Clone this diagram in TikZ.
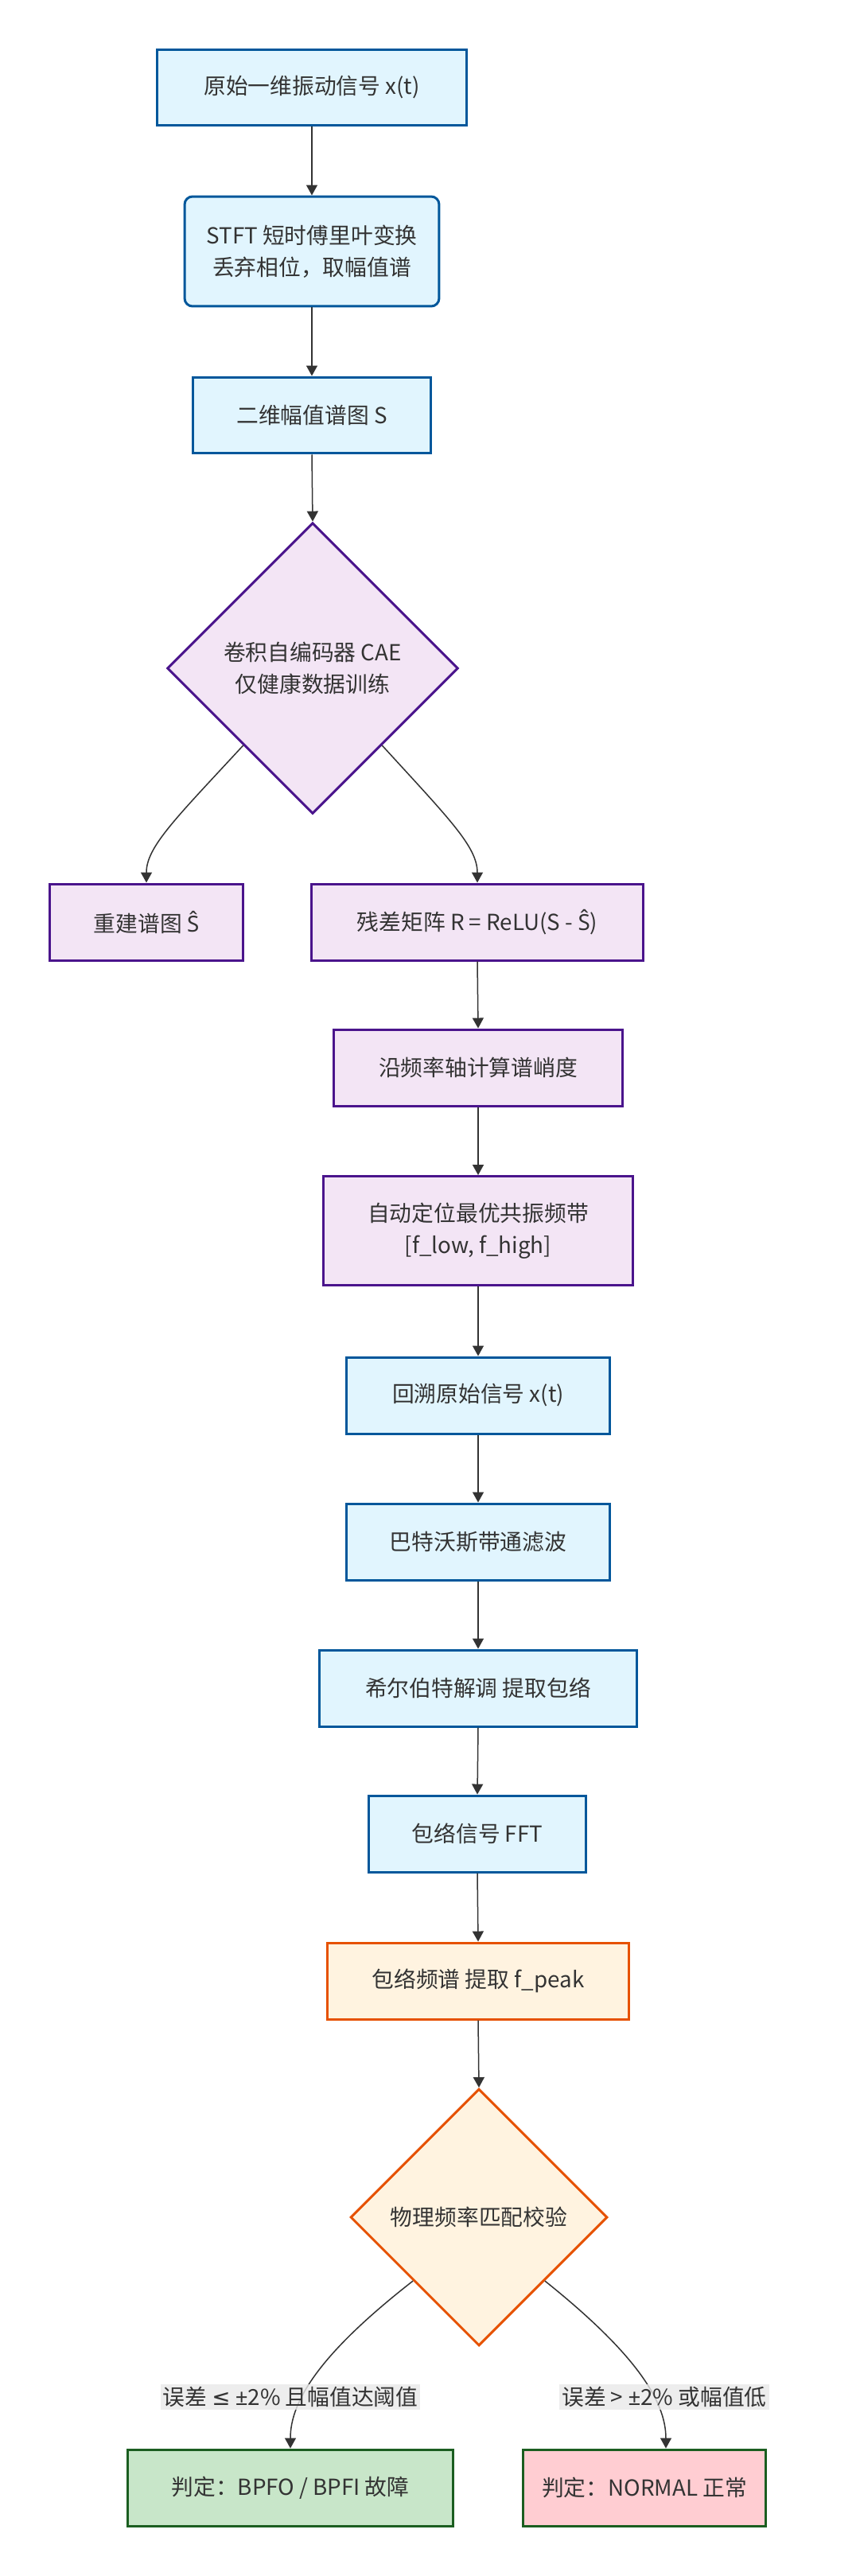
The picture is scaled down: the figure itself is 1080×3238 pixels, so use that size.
\documentclass[tikz,border=0pt]{standalone}
\usepackage{fontspec}
\setmainfont{Noto Sans CJK SC}
\newfontfamily\latinfont{Noto Sans}
\newfontfamily\symbolfont{DejaVu Sans}
\usetikzlibrary{shapes.geometric,arrows.meta}

\definecolor{blueline}{HTML}{01579B}
\definecolor{bluefill}{HTML}{E1F5FE}
\definecolor{purpleline}{HTML}{4A148C}
\definecolor{purplefill}{HTML}{F3E5F5}
\definecolor{orangeline}{HTML}{E65100}
\definecolor{orangefill}{HTML}{FFF3E0}
\definecolor{greenline}{HTML}{1B5E20}
\definecolor{greenfill}{HTML}{C8E6C9}
\definecolor{pinkfill}{HTML}{FFCDD2}
\definecolor{textgray}{HTML}{333333}
\definecolor{labelgray}{HTML}{E8E8E8}

\newcommand{\flowfont}{\fontsize{15.8pt}{22.6pt}\selectfont}
\newcommand{\Shat}{{\latinfont Ŝ}}

\begin{document}
\begin{tikzpicture}[x=0.02cm, y=-0.02cm,
  box/.style={draw, line width=0.06cm, minimum height=1.92cm, inner sep=0, align=center, font=\flowfont, text=textgray},
  bluebox/.style={box, draw=blueline, fill=bluefill},
  purplebox/.style={box, draw=purpleline, fill=purplefill},
  orangebox/.style={box, draw=orangeline, fill=orangefill},
  greenbox/.style={box, draw=greenline, fill=greenfill},
  pinkbox/.style={box, draw=greenline, fill=pinkfill},
  decision/.style={diamond, aspect=1, line width=0.06cm, inner sep=0, align=center, font=\flowfont, text=textgray},
  flow/.style={draw=textgray, line width=0.03cm, -{Triangle[length=0.26cm, width=0.28cm]}},
  edgelabel/.style={fill=labelgray, fill opacity=0.8, text opacity=1, inner sep=0.06cm, font=\flowfont, text=textgray}]

\useasboundingbox (0,0) rectangle (1080,3238);

% upper part: signal to spectrogram and autoencoder
\node[bluebox, minimum width=7.78cm] (src) at (392,110) {原始一维振动信号 x(t)};
\node[bluebox, rounded corners=0.2cm, minimum width=6.4cm, minimum height=2.76cm] (stft) at (392,316) {STFT 短时傅里叶变换\\丢弃相位，取幅值谱};
\node[bluebox, minimum width=5.98cm] (spec) at (392,522) {二维幅值谱图 S};
\node[decision, draw=purpleline, fill=purplefill, minimum size=7.32cm] (cae) at (393,840) {卷积自编码器 CAE\\仅健康数据训练};
\node[purplebox, minimum width=4.88cm] (rebuild) at (184,1159) {重建谱图 \Shat};
\node[purplebox, minimum width=8.34cm] (resid) at (600,1159) {残差矩阵 R = ReLU(S - \Shat)};
\node[purplebox, minimum width=7.28cm] (kurt) at (601,1342) {沿频率轴计算谱峭度};
\node[purplebox, minimum width=7.8cm, minimum height=2.74cm] (band) at (601,1547) {自动定位最优共振频带\\{}[f\_low, f\_high]};

% lower part: envelope analysis
\node[bluebox, minimum width=6.64cm] (back) at (601,1754) {回溯原始信号 x(t)};
\node[bluebox, minimum width=6.64cm] (bpf) at (601,1938) {巴特沃斯带通滤波};
\node[bluebox, minimum width=8cm] (hilb) at (601,2122) {希尔伯特解调 提取包络};
\node[bluebox, minimum width=5.48cm] (fft) at (600,2305) {包络信号 FFT};
\node[orangebox, minimum width=7.6cm] (peak) at (601,2490) {包络频谱 提取 f\_peak};
\node[decision, draw=orangeline, fill=orangefill, minimum size=6.46cm] (check) at (602,2787) {物理频率匹配校验};
\node[greenbox, minimum width=8.18cm] (fault) at (365,3127) {判定：BPFO / BPFI 故障};
\node[pinkbox, minimum width=6.1cm] (normal) at (810,3127) {判定：NORMAL 正常};

\draw[flow] (src.south) -- (stft.north);
\draw[flow] (stft.south) -- (spec.north);
\draw[flow] (spec.south) -- (cae.north);
\draw[flow] (cae.228) .. controls +(-85,92) and +(0,-45) .. (rebuild.north);
\draw[flow] (cae.-48) .. controls +(85,93) and +(0,-45) .. (resid.north);
\draw[flow] (resid.south) -- (kurt.north);
\draw[flow] (kurt.south) -- (band.north);
\draw[flow] (band.south) -- (back.north);
\draw[flow] (back.south) -- (bpf.north);
\draw[flow] (bpf.south) -- (hilb.north);
\draw[flow] (hilb.south) -- (fft.north);
\draw[flow] (fft.south) -- (peak.north);
\draw[flow] (peak.south) -- (check.north);
\draw[flow] (check.224) .. controls +(-118,92) and +(0,-59) .. (fault.north);
\draw[flow] (check.-44) .. controls +(115,92) and +(0,-59) .. ([xshift=0.54cm]normal.north);

% decision labels
\node[edgelabel] (lblfault) at (365,3013) {误差 {\symbolfont ≤} {\latinfont ±}2\% 且幅值达阈值};
\node[edgelabel] (lblnormal) at (835,3013) {误差 > {\latinfont ±}2\% 或幅值低};
\end{tikzpicture}
\end{document}
